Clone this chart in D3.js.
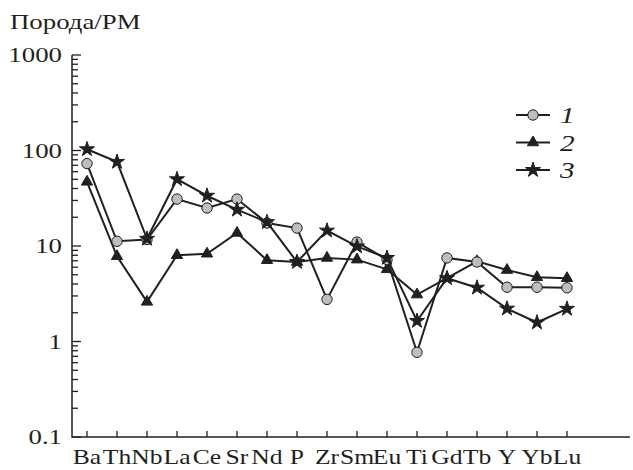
<!DOCTYPE html>
<html>
<head>
<meta charset="utf-8">
<script src="https://cdn.jsdelivr.net/npm/d3@7"></script>
<style>
  body { margin: 0; background: #fff; }
  text { font-family: "Liberation Serif", "Times New Roman", serif; fill: #231f20; }
</style>
</head>
<body>
<script>
// elements along the x axis
var elements = ["Ba", "Th", "Nb", "La", "Ce", "Sr", "Nd", "P", "Zr", "Sm", "Eu", "Ti", "Gd", "Tb", "Y", "Yb", "Lu"]

// rock / primitive mantle
var series1 = [73, 11.2, 11.7, 31, 25, 31, 17.4, 15.4, 2.76, 11, 7.2, 0.77, 7.5, 6.8, 3.7, 3.7, 3.65]
var series2 = [47, 7.8, 2.6, 8, 8.3, 13.7, 7.1, 6.8, 7.5, 7.2, 5.7, 3.1, 4.6, 6.9, 5.6, 4.7, 4.6]
var series3 = [103, 76, 11.9, 50, 33.6, 24, 17.8, 6.8, 14.5, 9.9, 7.5, 1.64, 4.6, 3.66, 2.21, 1.58, 2.2]

var seriesNames = ["1", "2", "3"]
var yTickLabels = ["0.1", "1", "10", "100", "1000"]

var W = 633, H = 470
var ink = "#231f20"
var sx = 1.22   // glyphs in the original are a bit stretched sideways

var d = d3.select('body')
    .append("svg")
    .attr("width", W)
    .attr("height", H)

var x = d3.scalePoint().domain(elements).range([87, 567])
var y = d3.scaleLog().domain([0.1, 1000]).range([437, 55])
var x0 = 72, x1 = 630

function label(g, tx, ty, str, size, anchor, italic) {
    return g.append("text")
        .attr("transform", `translate(${tx},${ty}) scale(${sx},1)`)
        .attr("text-anchor", anchor || "start")
        .style("font-size", size + "px")
        .style("font-style", italic ? "italic" : "normal")
        .text(str)
}

// axes lines
d.append("path")
    .attr("d", `M${x0},${y(1000)}V${y(0.1)}H${x1}`)
    .attr("fill", "none")
    .attr("stroke", ink)
    .attr("stroke-width", 1.5)

// y ticks: majors and minors
var yTicks = []
for (var k = -1; k < 3; k++) {
    for (var m = 1; m < 10; m++) yTicks.push(m * Math.pow(10, k))
}
yTicks.push(1000)
d.append("g").selectAll("line")
    .data(yTicks)
    .join("line")
    .attr("x1", x0)
    .attr("x2", function (v) {
        var major = Math.abs(Math.log10(v) - Math.round(Math.log10(v))) < 1e-9
        return x0 + (major ? 9 : 6)
    })
    .attr("y1", function (v) { return y(v) })
    .attr("y2", function (v) { return y(v) })
    .attr("stroke", ink)
    .attr("stroke-width", 1.3)

var yl = d.append("g")
yTickLabels.forEach(function (t) {
    label(yl, 62, y(+t) + 7, t, 22, "end")
})

// x ticks and labels
d.append("g").selectAll("line")
    .data(elements)
    .join("line")
    .attr("x1", function (e) { return x(e) })
    .attr("x2", function (e) { return x(e) })
    .attr("y1", y(0.1))
    .attr("y2", y(0.1) - 6)
    .attr("stroke", ink)
    .attr("stroke-width", 1.3)

var xl = d.append("g")
elements.forEach(function (e) {
    label(xl, x(e), 464, e, 21, "middle")
})

// title
label(d, 10, 29, "Порода/РМ", 22, "start")

// series
var line = d3.line()
    .x(function (p) { return x(p.e) })
    .y(function (p) { return y(p.v) })

function pts(vals) {
    return vals.map(function (v, i) { return { e: elements[i], v: v } })
}

var styles = [
    { vals: series2, sym: d3.symbolTriangle, size: 55, fill: ink },
    { vals: series1, sym: d3.symbolCircle, size: 85, fill: "#bcbec0" },
    { vals: series3, sym: d3.symbolStar, size: 70, fill: ink }
]

styles.forEach(function (s) {
    var g = d.append("g")
    g.append("path")
        .attr("d", line(pts(s.vals)))
        .attr("fill", "none")
        .attr("stroke", ink)
        .attr("stroke-width", 2)
    g.selectAll("path.mk")
        .data(pts(s.vals))
        .join("path")
        .attr("class", "mk")
        .attr("transform", function (p) { return `translate(${x(p.e)},${y(p.v)})` })
        .attr("d", d3.symbol().type(s.sym).size(s.size))
        .attr("fill", s.fill)
        .attr("stroke", ink)
        .attr("stroke-width", 1)
})

// legend
var legend = [
    { name: seriesNames[0], sym: d3.symbolCircle, size: 85, fill: "#bcbec0" },
    { name: seriesNames[1], sym: d3.symbolTriangle, size: 55, fill: ink },
    { name: seriesNames[2], sym: d3.symbolStar, size: 70, fill: ink }
]
legend.forEach(function (l, i) {
    var ly = 115 + i * 27.5
    var g = d.append("g")
    g.append("line")
        .attr("x1", 516).attr("x2", 550)
        .attr("y1", ly).attr("y2", ly)
        .attr("stroke", ink)
        .attr("stroke-width", 2)
    g.append("path")
        .attr("transform", `translate(533,${ly})`)
        .attr("d", d3.symbol().type(l.sym).size(l.size))
        .attr("fill", l.fill)
        .attr("stroke", ink)
        .attr("stroke-width", 1)
    label(g, 560, ly + 8, l.name, 24, "start", true)
})
</script>
</body>
</html>
